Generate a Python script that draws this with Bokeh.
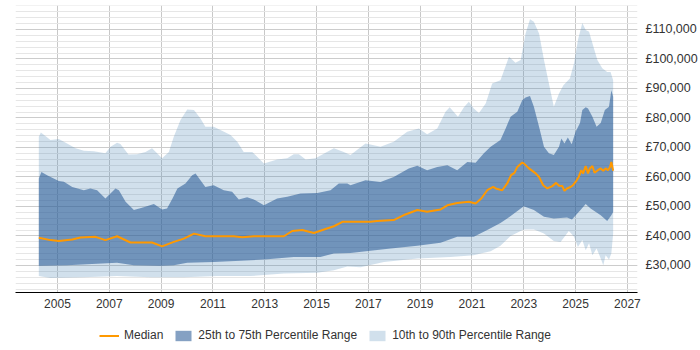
from bokeh.plotting import figure
from bokeh.layouts import column
from bokeh.models import (Range1d, FixedTicker, SingleIntervalTicker,
                          CustomJSTickFormatter, Legend, LegendItem)
from bokeh.embed import file_html
from bokeh.resources import INLINE

# 90th percentile
p90_t = [2004.28, 2004.36, 2004.73, 2005.05, 2005.37, 2005.70, 2006.02, 2006.40, 2006.85, 2007.05,
         2007.30, 2007.43, 2007.74, 2008.07, 2008.40, 2008.65, 2009.04, 2009.30, 2009.49, 2009.75,
         2010.01, 2010.27, 2010.52, 2010.71, 2011.03, 2011.29, 2011.68, 2011.94, 2012.19, 2012.52,
         2012.64, 2012.97, 2013.48, 2013.87, 2014.12, 2014.32, 2014.58, 2014.96, 2015.35, 2015.67,
         2016.05, 2016.31, 2016.89, 2017.08, 2017.47, 2017.98, 2018.50, 2018.95, 2019.27, 2019.66,
         2019.98, 2020.14, 2020.46, 2020.69, 2020.88, 2021.07, 2021.27, 2021.53, 2021.78, 2022.10,
         2022.43, 2022.68, 2022.88, 2023.07, 2023.24, 2023.39, 2023.59, 2023.78, 2023.97, 2024.16,
         2024.36, 2024.53, 2024.78, 2024.94, 2025.09, 2025.26, 2025.39, 2025.52, 2025.65, 2025.84,
         2026.03, 2026.22, 2026.35, 2026.45]
p90_v = [73600, 75100, 72500, 72900, 71300, 69700, 68900, 68750, 68000, 70200,
         71600, 71200, 67600, 67700, 68500, 69700, 66300, 68500, 73600, 79300,
         82900, 82700, 79800, 77000, 77000, 75900, 74200, 71900, 68500, 68500,
         67400, 64600, 65900, 66300, 67700, 67700, 65900, 66300, 68200, 69700,
         68500, 67400, 71300, 71000, 70200, 71900, 75300, 76400, 74500, 76400,
         82100, 83600, 80400, 83600, 85500, 83200, 81700, 84900, 91700, 92800,
         100700, 98700, 99600, 108600, 113400, 112600, 108600, 99600, 91700, 83800,
         88300, 91100, 93400, 98500, 106400, 112200, 109800, 109200, 105300, 99600,
         96800, 95600, 95600, 92800]

# 75th percentile
p75_t = [2004.28, 2004.38, 2004.60, 2005.05, 2005.25, 2005.57, 2006.02, 2006.27, 2006.53, 2006.85,
         2007.24, 2007.37, 2007.63, 2007.95, 2008.33, 2008.72, 2009.04, 2009.23, 2009.44, 2009.63,
         2009.94, 2010.20, 2010.33, 2010.52, 2010.71, 2011.03, 2011.42, 2011.74, 2012.00, 2012.32,
         2012.58, 2012.97, 2013.48, 2013.87, 2014.38, 2015.03, 2015.54, 2015.86, 2016.19, 2016.31,
         2016.89, 2017.47, 2017.98, 2018.56, 2018.89, 2019.27, 2019.66, 2020.05, 2020.43, 2020.82,
         2021.14, 2021.46, 2021.72, 2022.10, 2022.30, 2022.49, 2022.75, 2022.94, 2023.07, 2023.24,
         2023.39, 2023.59, 2023.78, 2023.97, 2024.16, 2024.36, 2024.45, 2024.57, 2024.70, 2024.85,
         2025.00, 2025.17, 2025.26, 2025.39, 2025.48, 2025.65, 2025.81, 2025.97, 2026.13, 2026.29,
         2026.38, 2026.45]
p75_v = [59500, 61700, 60600, 58600, 58400, 56600, 55500, 56100, 55500, 52700,
         56100, 55500, 51600, 48800, 49700, 50800, 49000, 49300, 52700, 56100,
         57800, 60600, 61200, 58900, 56600, 57200, 55500, 55000, 52400, 53100,
         52400, 50400, 52700, 53300, 54400, 54600, 55500, 57800, 57800, 57200,
         58900, 58300, 60000, 62900, 63800, 62300, 63400, 64000, 62300, 65100,
         64800, 68000, 70200, 72500, 76400, 80400, 82100, 86000, 86900, 87400,
         83800, 77000, 70200, 68000, 67400, 70200, 73000, 71300, 73400, 71100,
         75300, 78300, 82700, 83600, 83200, 80400, 77000, 78300, 82700, 83800,
         89400, 87200]

# Median
med_t = [2004.28, 2004.73, 2005.05, 2005.57, 2005.89, 2006.47, 2006.85, 2007.30, 2007.82, 2008.65,
         2009.04, 2009.49, 2009.88, 2010.27, 2010.71, 2011.81, 2012.13, 2012.58, 2013.74, 2014.06,
         2014.45, 2014.90, 2015.29, 2015.67, 2016.00, 2017.08, 2017.34, 2017.98, 2018.43, 2018.89,
         2019.27, 2019.79, 2020.05, 2020.43, 2020.88, 2021.14, 2021.36, 2021.59, 2021.82, 2021.95,
         2022.17, 2022.36, 2022.51, 2022.64, 2022.75, 2022.94, 2023.00, 2023.20, 2023.46, 2023.59,
         2023.75, 2023.91, 2024.10, 2024.25, 2024.36, 2024.49, 2024.57, 2024.67, 2024.80, 2024.90,
         2025.03, 2025.12, 2025.22, 2025.29, 2025.39, 2025.48, 2025.55, 2025.65, 2025.73, 2025.86,
         2025.97, 2026.07, 2026.16, 2026.25, 2026.33, 2026.38, 2026.45]
med_v = [39400, 38600, 38300, 38800, 39500, 39700, 38600, 39900, 37800, 37800,
         36500, 38000, 39100, 40800, 39900, 39900, 39600, 39900, 39900, 41700,
         42000, 41000, 42200, 43300, 44800, 44800, 45100, 45400, 47300, 48800,
         48200, 49000, 50400, 51200, 51600, 51000, 52700, 55500, 56600, 56000,
         55500, 57800, 60600, 61400, 63400, 64900, 64600, 62900, 61200, 60000,
         57200, 56100, 56900, 58000, 57000, 56900, 55300, 56100, 56600, 57200,
         58700, 60000, 62300, 61200, 63700, 61200, 62900, 63700, 61400, 62300,
         62900, 62100, 62900, 62300, 63400, 65100, 62100]

# 25th percentile
p25_t = [2004.28, 2005.37, 2007.30, 2007.95, 2008.98, 2009.49, 2010.01, 2011.03, 2012.07, 2013.10,
         2014.12, 2015.15, 2015.67, 2016.31, 2017.08, 2017.86, 2018.89, 2019.79, 2020.43, 2021.07,
         2021.59, 2022.10, 2022.36, 2023.00, 2023.39, 2023.78, 2024.16, 2024.67, 2024.86, 2025.19,
         2025.39, 2025.58, 2025.97, 2026.22, 2026.38, 2026.45]
p25_v = [29900, 30100, 30900, 30100, 29900, 30100, 30900, 31200, 31600, 32100,
         32900, 32900, 34100, 34200, 35000, 35800, 36700, 37700, 39700, 39700,
         42000, 44400, 45900, 50100, 48800, 46500, 45900, 46300, 45600, 48800,
         50800, 49300, 47000, 45100, 47000, 48100]

# 10th percentile
p10_t = [2004.28, 2004.73, 2006.02, 2007.30, 2008.59, 2009.88, 2011.17, 2012.45, 2013.74, 2015.03,
         2015.67, 2016.19, 2016.70, 2017.60, 2018.89, 2020.17, 2021.07, 2021.46, 2021.72, 2022.10,
         2022.49, 2023.00, 2023.39, 2023.78, 2024.16, 2024.42, 2024.74, 2024.94, 2025.09, 2025.26,
         2025.39, 2025.52, 2025.65, 2025.81, 2025.97, 2026.07, 2026.16, 2026.29, 2026.38, 2026.45]
p10_v = [26400, 25800, 26000, 26400, 26000, 26000, 26400, 26400, 27300, 27500,
         28400, 29700, 29400, 31200, 32400, 32900, 33500, 34300, 34800, 36700,
         40000, 42200, 42200, 40800, 38300, 38000, 41700, 39700, 36300, 38600,
         35200, 37500, 33500, 35800, 32400, 30100, 33500, 32000, 34100, 40800]

year_ticks = [2005, 2007, 2009, 2011, 2013, 2015, 2017, 2019, 2021, 2023, 2025, 2027]
series_labels = ["Median", "25th to 75th Percentile Range", "10th to 90th Percentile Range"]

FONT = "Liberation Sans"
TEXT = "#333333"
MEDIAN = dict(line_color="#ff9900", line_width=2)
INNER = dict(fill_color="#285a96", fill_alpha=0.57, line_color=None)
OUTER = dict(fill_color="#4682b4", fill_alpha=0.25, line_color=None)

p = figure(frame_width=622, frame_height=287,
           output_backend="svg", toolbar_location=None,
           x_range=Range1d(2003.38, 2027.39), y_range=Range1d(20850, 118100),
           y_axis_location="right", min_border_left=15, min_border_top=5,
           min_border_right=63, min_border_bottom=26)
p.outline_line_color = None
p.background_fill_color = "white"
p.border_fill_color = "white"


def band(upper_t, upper_v, lower_t, lower_v):
    return upper_t + lower_t[::-1], upper_v + lower_v[::-1]


bx, by = band(p90_t, p90_v, p10_t, p10_v)
p.patch(bx, by, **OUTER)
bx, by = band(p75_t, p75_v, p25_t, p25_v)
p.patch(bx, by, **INNER)
p.line(med_t, med_v, **MEDIAN)

# x axis
xa = p.xaxis[0]
xa.ticker = FixedTicker(ticks=year_ticks)
xa.axis_line_color = "#000000"
xa.axis_line_width = 1
xa.major_tick_line_color = None
xa.minor_tick_line_color = None
xa.major_tick_out = 0
xa.major_tick_in = 0
xa.major_label_standoff = 6
xa.major_label_text_font = FONT
xa.major_label_text_font_size = "12px"
xa.major_label_text_color = TEXT

# y axis on the right
ya = p.yaxis[0]
ya.ticker = SingleIntervalTicker(interval=10000, num_minor_ticks=5)
ya.formatter = CustomJSTickFormatter(code="""
    const s = Math.round(tick).toString().replace(/\\B(?=(\\d{3})+(?!\\d))/g, ',');
    return '\\u00a3' + s;
""")
ya.axis_line_color = None
ya.major_tick_line_color = None
ya.minor_tick_line_color = None
ya.major_tick_out = 0
ya.major_tick_in = 0
ya.major_label_standoff = 4
ya.major_label_text_font = FONT
ya.major_label_text_font_size = "12.5px"
ya.major_label_text_color = TEXT

# grids
p.xgrid.ticker = FixedTicker(ticks=year_ticks)
p.xgrid.grid_line_color = "#c8c8c8"
p.ygrid.grid_line_color = "#cccccc"
p.ygrid.minor_grid_line_color = "#e6e6e6"

# legend strip under the chart; its key glyphs sit outside the strip's
# visible range so only their legend swatches show
lg = figure(width=700, height=32, output_backend="svg", toolbar_location=None,
            x_axis_type=None, y_axis_type=None,
            x_range=Range1d(0, 1), y_range=Range1d(0, 1),
            min_border=0)
lg.outline_line_color = None
lg.grid.visible = False
k_med = lg.line([-3, -2], [-3, -2], **MEDIAN)
k_inner = lg.patch([-3, -2, -2], [-3, -3, -2], **INNER)
k_outer = lg.patch([-3, -2, -2], [-3, -3, -2], **OUTER)

legend = Legend(items=[
    LegendItem(label=series_labels[0], renderers=[k_med]),
    LegendItem(label=series_labels[1], renderers=[k_inner]),
    LegendItem(label=series_labels[2], renderers=[k_outer]),
], orientation="horizontal", location=(84, 8),
    label_text_font=FONT, label_text_font_size="12px", label_text_color=TEXT,
    glyph_width=20, glyph_height=13, label_height=14, label_standoff=5, spacing=10,
    border_line_color=None, background_fill_alpha=0, margin=0, padding=0)
lg.add_layout(legend, "center")

open("out.html", "w").write(file_html(column(p, lg, spacing=0), INLINE))
